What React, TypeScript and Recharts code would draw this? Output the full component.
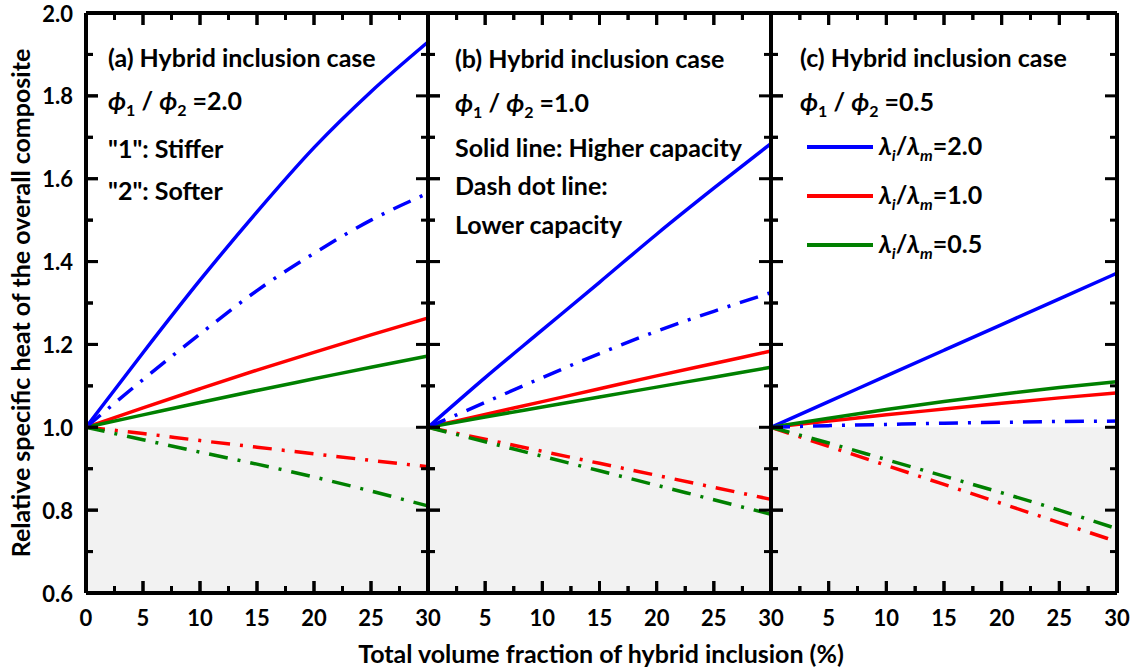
import React from "react";
import { LineChart, Line, XAxis, YAxis, ReferenceArea, ReferenceLine, Legend } from "recharts";

// x: total volume fraction of hybrid inclusion (%)
const xValues = [0, 5, 10, 15, 20, 25, 30];

// (a) phi1/phi2 = 2.0
const aBlueSolid = [1.0, 1.18, 1.355, 1.52, 1.675, 1.81, 1.93];
const aBlueDash = [1.0, 1.115, 1.225, 1.33, 1.42, 1.5, 1.565];
const aRedSolid = [1.0, 1.047, 1.093, 1.138, 1.181, 1.223, 1.264];
const aRedDash = [1.0, 0.985, 0.968, 0.952, 0.936, 0.92, 0.905];
const aGreenSolid = [1.0, 1.03, 1.06, 1.089, 1.117, 1.145, 1.172];
const aGreenDash = [1.0, 0.97, 0.94, 0.911, 0.88, 0.846, 0.81];

// (b) phi1/phi2 = 1.0
const bBlueSolid = [1.0, 1.12, 1.235, 1.35, 1.466, 1.577, 1.685];
const bBlueDash = [1.0, 1.06, 1.12, 1.178, 1.232, 1.28, 1.325];
const bRedSolid = [1.0, 1.031, 1.062, 1.093, 1.124, 1.154, 1.184];
const bRedDash = [1.0, 0.971, 0.942, 0.913, 0.884, 0.855, 0.826];
const bGreenSolid = [1.0, 1.025, 1.049, 1.073, 1.097, 1.121, 1.145];
const bGreenDash = [1.0, 0.965, 0.93, 0.895, 0.86, 0.825, 0.79];

// (c) phi1/phi2 = 0.5
const cBlueSolid = [1.0, 1.062, 1.124, 1.186, 1.248, 1.31, 1.372];
const cBlueDash = [1.0, 1.004, 1.007, 1.01, 1.012, 1.014, 1.015];
const cRedSolid = [1.0, 1.015, 1.03, 1.044, 1.058, 1.071, 1.083];
const cRedDash = [1.0, 0.954, 0.908, 0.862, 0.816, 0.77, 0.724];
const cGreenSolid = [1.0, 1.022, 1.043, 1.062, 1.08, 1.096, 1.11];
const cGreenDash = [1.0, 0.962, 0.922, 0.882, 0.842, 0.8, 0.755];

const ratioLabels = ["2.0", "1.0", "0.5"];
const xTicks = [0, 2.5, 5, 7.5, 10, 12.5, 15, 17.5, 20, 22.5, 25, 27.5, 30];
const yTicks = [0.6, 0.7, 0.8, 0.9, 1.0, 1.1, 1.2, 1.3, 1.4, 1.5, 1.6, 1.7, 1.8, 1.9, 2.0];

const BLUE = "#0000ff";
const RED = "#ff0000";
const GREEN = "#008000";
const DASHDOT = "19 10 3 10";
const FONT = "Lato, 'Open Sans', sans-serif";

const W = 1135;
const H = 672;
const TOP = 13;
const BOTTOM = 593;

const buildRows = (s: number[][]) =>
  xValues.map((x, i) => ({
    x,
    bs: s[0][i],
    bd: s[1][i],
    rs: s[2][i],
    rd: s[3][i],
    gs: s[4][i],
    gd: s[5][i],
  }));

const majorX = (v: number) => v % 5 === 0;
const majorY = (v: number) => Math.round(v * 10) % 2 === 0;

const leftTick = (showLabel: boolean) => (props: any) => {
  const { x, y, payload } = props;
  const v = payload.value;
  const len = majorY(v) ? 12 : 7;
  return (
    <g>
      <path d={`M${x},${y}H${x + len}`} stroke="#000" strokeWidth={3} fill="none" />
      {showLabel && majorY(v) && (
        <text x={x - 13} y={y} textAnchor="end" dominantBaseline="central" fontFamily={FONT} fontWeight="bold" fontSize={22} fill="#000">
          {v.toFixed(1)}
        </text>
      )}
    </g>
  );
};

const rightTick = (props: any) => {
  const { x, y, payload } = props;
  const len = majorY(payload.value) ? 12 : 7;
  return <path d={`M${x},${y}H${x - len}`} stroke="#000" strokeWidth={3} fill="none" />;
};

const bottomTick = (showZero: boolean) => (props: any) => {
  const { x, y, payload } = props;
  const v = payload.value;
  const len = majorX(v) ? 12 : 7;
  return (
    <g>
      <path d={`M${x},${y}V${y - len}`} stroke="#000" strokeWidth={3} fill="none" />
      {majorX(v) && (v !== 0 || showZero) && (
        <text x={x} y={y + 24} textAnchor="middle" dominantBaseline="central" fontFamily={FONT} fontWeight="bold" fontSize={22} fill="#000">
          {v}
        </text>
      )}
    </g>
  );
};

const topTick = (props: any) => {
  const { x, y, payload } = props;
  const len = majorX(payload.value) ? 12 : 7;
  return <path d={`M${x},${y}V${y + len}`} stroke="#000" strokeWidth={3} fill="none" />;
};

const LegendContent = (props: any) => {
  const payload = props.payload || [];
  const items = ratioLabels.map((label) => payload.find((e: any) => e.value === label)).filter(Boolean);
  return (
    <div style={{ fontFamily: FONT, fontWeight: "bold", fontSize: 25 }}>
      {items.map((e: any) => (
        <div key={e.value} style={{ display: "flex", alignItems: "center", height: 49 }}>
          <svg width={66} height={8}>
            <line x1={0} x2={66} y1={4} y2={4} stroke={e.color} strokeWidth={4} />
          </svg>
          <span style={{ marginLeft: 6, whiteSpace: "nowrap" }}>
            <i>λ</i>
            <sub style={{ fontSize: 16 }}><i>i</i></sub>/<i>λ</i>
            <sub style={{ fontSize: 16 }}><i>m</i></sub>={e.value}
          </span>
        </div>
      ))}
    </div>
  );
};

const axisLine = { stroke: "#000", strokeWidth: 4 };

const Panel = ({ series, left, right, first, legend }: any) => {
  const rows = buildRows(series);
  const LT = leftTick(!!first);
  const BT = bottomTick(!!first);
  // inward tick marks as short reference segments (lengths in px converted to data units)
  const perPxX = 30 / (right - left);
  const perPxY = 1.4 / (BOTTOM - TOP);
  const yMarks = yTicks.flatMap((v) => {
    const len = majorY(v) ? 12 : 7;
    return [
      <ReferenceLine key={`l${v}`} xAxisId="b" yAxisId="l" segment={[{ x: 0, y: v }, { x: len * perPxX, y: v }]} stroke="#000" strokeWidth={3} ifOverflow="visible" />,
      <ReferenceLine key={`r${v}`} xAxisId="b" yAxisId="l" segment={[{ x: 30, y: v }, { x: 30 - len * perPxX, y: v }]} stroke="#000" strokeWidth={3} ifOverflow="visible" />,
    ];
  });
  const xMarks = xTicks.flatMap((v) => {
    const len = majorX(v) ? 12 : 7;
    return [
      <ReferenceLine key={`b${v}`} xAxisId="b" yAxisId="l" segment={[{ x: v, y: 0.6 }, { x: v, y: 0.6 + len * perPxY }]} stroke="#000" strokeWidth={3} ifOverflow="visible" />,
      <ReferenceLine key={`t${v}`} xAxisId="b" yAxisId="l" segment={[{ x: v, y: 2.0 }, { x: v, y: 2.0 - len * perPxY }]} stroke="#000" strokeWidth={3} ifOverflow="visible" />,
    ];
  });
  return (
    <div style={{ position: "absolute", left: 0, top: 0 }}>
      <LineChart width={W} height={H} data={rows} margin={{ top: TOP - 1, bottom: H - BOTTOM - 1, left: left - 1, right: W - right - 1 }}>
        <ReferenceArea xAxisId="b" yAxisId="l" x1={0} x2={30} y1={0.6} y2={1.0} fill="#f2f2f2" fillOpacity={1} stroke="none" />
        <Line xAxisId="b" yAxisId="l" dataKey="bs" name={ratioLabels[0]} type="monotone" stroke={BLUE} strokeWidth={3.5} dot={false} isAnimationActive={false} />
        <Line xAxisId="b" yAxisId="l" dataKey="rs" name={ratioLabels[1]} type="monotone" stroke={RED} strokeWidth={3.5} dot={false} isAnimationActive={false} />
        <Line xAxisId="b" yAxisId="l" dataKey="gs" name={ratioLabels[2]} type="monotone" stroke={GREEN} strokeWidth={3.5} dot={false} isAnimationActive={false} />
        <Line xAxisId="b" yAxisId="l" dataKey="bd" legendType="none" type="monotone" stroke={BLUE} strokeWidth={3.5} strokeDasharray={DASHDOT} dot={false} isAnimationActive={false} />
        <Line xAxisId="b" yAxisId="l" dataKey="rd" legendType="none" type="monotone" stroke={RED} strokeWidth={3.5} strokeDasharray={DASHDOT} dot={false} isAnimationActive={false} />
        <Line xAxisId="b" yAxisId="l" dataKey="gd" legendType="none" type="monotone" stroke={GREEN} strokeWidth={3.5} strokeDasharray={DASHDOT} dot={false} isAnimationActive={false} />
        {yMarks}
        {xMarks}
        <XAxis xAxisId="b" dataKey="x" type="number" domain={[0, 30]} ticks={xTicks} interval={0} orientation="bottom" height={1} tickSize={0} tickMargin={0} tickLine={false} axisLine={axisLine} tick={(p: any) => <BT {...p} />} />
        <XAxis xAxisId="t" dataKey="x" type="number" domain={[0, 30]} ticks={xTicks} interval={0} orientation="top" height={1} tickSize={0} tickMargin={0} tickLine={false} axisLine={axisLine} tick={(p: any) => topTick(p)} />
        <YAxis yAxisId="l" type="number" domain={[0.6, 2.0]} ticks={yTicks} interval={0} orientation="left" width={1} tickSize={0} tickMargin={0} tickLine={false} axisLine={axisLine} tick={(p: any) => <LT {...p} />} />
        <YAxis yAxisId="r" type="number" domain={[0.6, 2.0]} ticks={yTicks} interval={0} orientation="right" width={1} tickSize={0} tickMargin={0} tickLine={false} axisLine={axisLine} tick={(p: any) => rightTick(p)} />
        {legend && (
          <Legend layout="vertical" align="center" verticalAlign="middle" content={LegendContent} wrapperStyle={{ left: 807, top: 122, width: 280 }} />
        )}
      </LineChart>
    </div>
  );
};

const note = (left: number, top: number): React.CSSProperties => ({
  position: "absolute",
  left,
  top,
  fontFamily: FONT,
  fontWeight: "bold",
  fontSize: 25,
  lineHeight: "26px",
  whiteSpace: "nowrap",
  color: "#000",
});

const Phi = ({ value }: { value: string }) => (
  <span>
    <i>ϕ</i>
    <sub style={{ fontSize: 16 }}>1</sub> / <i>ϕ</i>
    <sub style={{ fontSize: 16 }}>2</sub> ={value}
  </span>
);

export default function App() {
  return (
    <div style={{ position: "absolute", left: 0, top: 0, width: W, height: H, background: "#fff", overflow: "hidden" }}>
      <Panel series={[aBlueSolid, aBlueDash, aRedSolid, aRedDash, aGreenSolid, aGreenDash]} left={86} right={428} first />
      <Panel series={[bBlueSolid, bBlueDash, bRedSolid, bRedDash, bGreenSolid, bGreenDash]} left={428} right={771} />
      <Panel series={[cBlueSolid, cBlueDash, cRedSolid, cRedDash, cGreenSolid, cGreenDash]} left={771} right={1117} legend />

      <div style={note(108, 44)}>(a) Hybrid inclusion case</div>
      <div style={note(108, 87)}><Phi value="2.0" /></div>
      <div style={note(108, 135)}>"1": Stiffer</div>
      <div style={note(108, 177)}>"2": Softer</div>

      <div style={note(455, 45)}>(b) Hybrid inclusion case</div>
      <div style={note(455, 89)}><Phi value="1.0" /></div>
      <div style={note(455, 134)}>Solid line: Higher capacity</div>
      <div style={note(455, 172)}>Dash dot line:</div>
      <div style={note(455, 211)}>Lower capacity</div>

      <div style={note(800, 44)}>(c) Hybrid inclusion case</div>
      <div style={note(800, 88)}><Phi value="0.5" /></div>

      <div style={{ ...note(601, 640), transform: "translateX(-50%)" }}>Total volume fraction of hybrid inclusion (%)</div>
      <div style={{ ...note(20, 303), transform: "translate(-50%, -50%) rotate(-90deg)" }}>
        Relative specific heat of the overall composite
      </div>
    </div>
  );
}
